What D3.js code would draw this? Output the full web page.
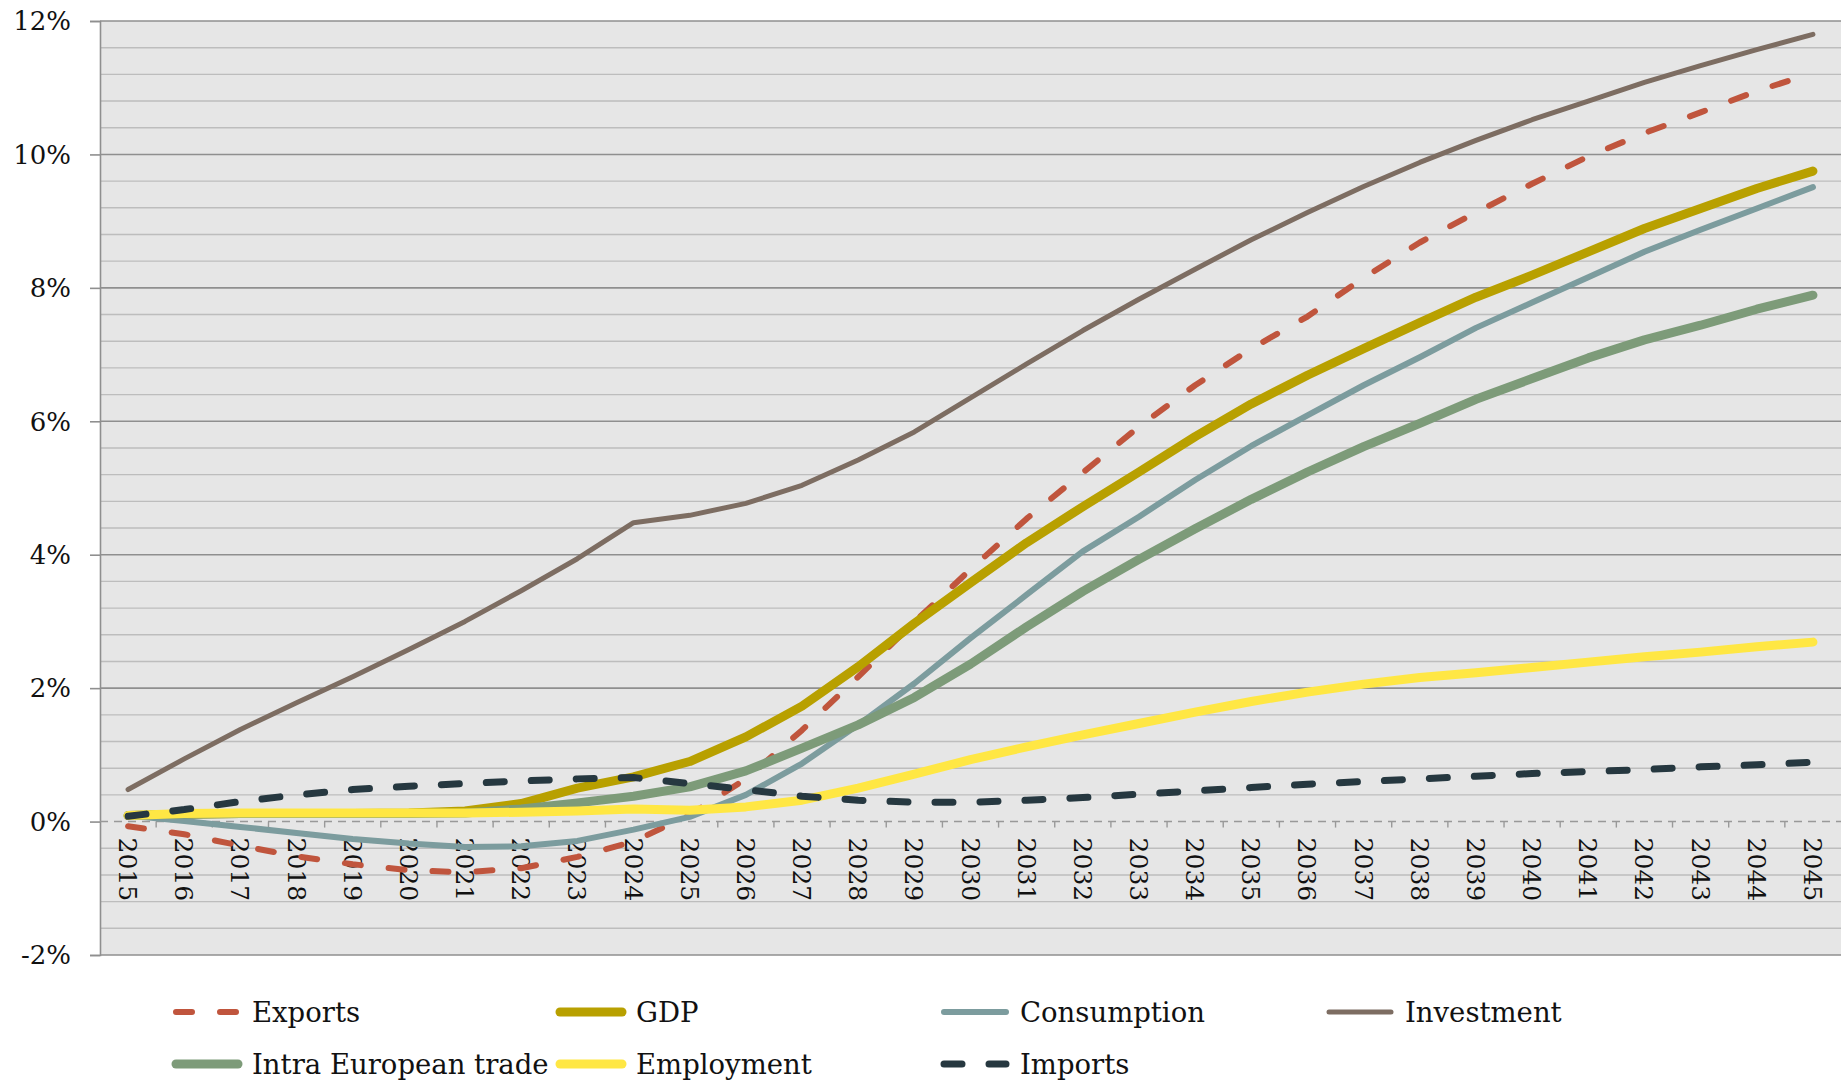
<!DOCTYPE html>
<html>
<head>
<meta charset="utf-8">
<script src="https://cdn.jsdelivr.net/npm/d3@7"></script>
<style>
  html, body { margin: 0; padding: 0; background: #ffffff; }
  svg { display: block; }
</style>
</head>
<body>
<svg id="chart" width="1845" height="1081"></svg>
<script>
// Years on the category axis
const years = [2015, 2016, 2017, 2018, 2019, 2020, 2021, 2022, 2023, 2024,
               2025, 2026, 2027, 2028, 2029, 2030, 2031, 2032, 2033, 2034,
               2035, 2036, 2037, 2038, 2039, 2040, 2041, 2042, 2043, 2044, 2045];

// Deviation from baseline, in percent
const exportsSeries = [-0.07, -0.19, -0.36, -0.52, -0.64, -0.73, -0.76, -0.70, -0.53, -0.30,
                       0.10, 0.64, 1.37, 2.17, 2.99, 3.78, 4.54, 5.23, 5.92, 6.54,
                       7.09, 7.57, 8.15, 8.68, 9.13, 9.56, 9.97, 10.32, 10.63, 10.95, 11.22];
const gdpSeries = [0.09, 0.11, 0.12, 0.12, 0.12, 0.13, 0.16, 0.27, 0.50, 0.67,
                   0.90, 1.27, 1.73, 2.32, 2.97, 3.58, 4.18, 4.72, 5.24, 5.77,
                   6.26, 6.69, 7.09, 7.48, 7.86, 8.19, 8.54, 8.89, 9.19, 9.49, 9.75];
const consumptionSeries = [0.09, 0.01, -0.08, -0.17, -0.26, -0.33, -0.38, -0.37, -0.29, -0.12,
                           0.07, 0.40, 0.87, 1.45, 2.07, 2.75, 3.40, 4.05, 4.57, 5.12,
                           5.63, 6.09, 6.54, 6.96, 7.40, 7.78, 8.16, 8.54, 8.87, 9.19, 9.51];
const investmentSeries = [0.48, 0.94, 1.38, 1.78, 2.17, 2.58, 3.00, 3.46, 3.94, 4.48,
                          4.59, 4.77, 5.04, 5.42, 5.84, 6.35, 6.86, 7.36, 7.83, 8.28,
                          8.72, 9.13, 9.52, 9.88, 10.21, 10.52, 10.80, 11.08, 11.33, 11.57, 11.80];
const intraEuSeries = [0.09, 0.11, 0.12, 0.12, 0.12, 0.12, 0.13, 0.19, 0.28, 0.38,
                       0.52, 0.76, 1.10, 1.45, 1.86, 2.36, 2.92, 3.45, 3.93, 4.39,
                       4.83, 5.24, 5.62, 5.97, 6.33, 6.64, 6.95, 7.22, 7.44, 7.68, 7.89];
const employmentSeries = [0.09, 0.12, 0.13, 0.13, 0.13, 0.13, 0.13, 0.14, 0.16, 0.19,
                          0.17, 0.22, 0.32, 0.50, 0.71, 0.93, 1.12, 1.30, 1.47, 1.64,
                          1.80, 1.94, 2.06, 2.16, 2.23, 2.31, 2.39, 2.47, 2.54, 2.62, 2.69];
const importsSeries = [0.08, 0.18, 0.30, 0.40, 0.48, 0.53, 0.57, 0.61, 0.64, 0.66,
                       0.57, 0.48, 0.38, 0.32, 0.29, 0.29, 0.32, 0.36, 0.41, 0.46,
                       0.51, 0.56, 0.60, 0.64, 0.68, 0.72, 0.75, 0.78, 0.82, 0.85, 0.89];

// Axis tick labels
const yTickValues = [-2, 0, 2, 4, 6, 8, 10, 12];
const seriesNames = ["Exports", "GDP", "Consumption", "Investment",
                     "Intra European trade", "Employment", "Imports"];

// Build series table (legend order = drawing order)
const seriesData = {
  "Exports": exportsSeries,
  "GDP": gdpSeries,
  "Consumption": consumptionSeries,
  "Investment": investmentSeries,
  "Intra European trade": intraEuSeries,
  "Employment": employmentSeries,
  "Imports": importsSeries
};
const seriesStyle = {
  "Exports":              { color: "#C0553D", width: 6, dash: "16,28" },
  "GDP":                  { color: "#B8A000", width: 9, dash: null },
  "Consumption":          { color: "#7C9C9E", width: 6, dash: null },
  "Investment":           { color: "#7D6D62", width: 5, dash: null },
  "Intra European trade": { color: "#7D9B79", width: 9, dash: null },
  "Employment":           { color: "#FFE744", width: 9, dash: null },
  "Imports":              { color: "#263840", width: 7, dash: "18,27" }
};

const FONT = "'DejaVu Serif', 'Liberation Serif', serif";

const svg = d3.select("#chart");

const plot = { left: 100, right: 1841, top: 21, bottom: 955 };

const x = d3.scalePoint()
  .domain(years)
  .range([plot.left, plot.right])
  .padding(0.5);

const y = d3.scaleLinear()
  .domain([-2, 12])
  .range([plot.bottom, plot.top]);

// Plot background
svg.append("rect")
  .attr("x", plot.left)
  .attr("y", plot.top)
  .attr("width", plot.right - plot.left)
  .attr("height", plot.bottom - plot.top)
  .attr("fill", "#E6E6E6");

// Minor gridlines every 0.4 %
const minorTicks = d3.range(-2, 12.0001, 0.4).map(v => +v.toFixed(1))
  .filter(v => Math.abs(v / 2 - Math.round(v / 2)) > 1e-6);
svg.append("g")
  .selectAll("line")
  .data(minorTicks)
  .join("line")
  .attr("x1", plot.left)
  .attr("x2", plot.right)
  .attr("y1", d => y(d))
  .attr("y2", d => y(d))
  .attr("stroke", "#BDBDBD")
  .attr("stroke-width", 1.4);

// Major gridlines (the zero line is drawn separately as the category axis)
svg.append("g")
  .selectAll("line")
  .data(yTickValues.filter(v => v !== 0))
  .join("line")
  .attr("x1", plot.left)
  .attr("x2", plot.right)
  .attr("y1", d => y(d))
  .attr("y2", d => y(d))
  .attr("stroke", "#8F8F8F")
  .attr("stroke-width", 1.6);

// Value axis
const yAxis = d3.axisLeft(y)
  .tickValues(yTickValues)
  .tickSize(10)
  .tickPadding(19)
  .tickFormat(d => d + "%");

const yAxisG = svg.append("g")
  .attr("transform", `translate(${plot.left},0)`)
  .call(yAxis);
yAxisG.select(".domain").attr("stroke", "#8F8F8F").attr("stroke-width", 1.6);
yAxisG.selectAll(".tick line").attr("stroke", "#8F8F8F").attr("stroke-width", 1.6);
yAxisG.selectAll(".tick text")
  .attr("font-family", FONT)
  .attr("font-size", 26)
  .attr("fill", "#111")
  .attr("dy", "0.34em");

// Category axis at zero: dashed line with ticks between years
const zeroY = y(0);
const step = x.step();
svg.append("line")
  .attr("x1", plot.left)
  .attr("x2", plot.right)
  .attr("y1", zeroY)
  .attr("y2", zeroY)
  .attr("stroke", "#999999")
  .attr("stroke-width", 1.6)
  .attr("stroke-dasharray", "8,6");

svg.append("g")
  .selectAll("line")
  .data(years.slice(1))
  .join("line")
  .attr("x1", d => x(d) - step / 2)
  .attr("x2", d => x(d) - step / 2)
  .attr("y1", zeroY)
  .attr("y2", zeroY + 6)
  .attr("stroke", "#999999")
  .attr("stroke-width", 1.4);

// Year labels, rotated to read downward
svg.append("g")
  .selectAll("text")
  .data(years)
  .join("text")
  .attr("transform", d => `translate(${x(d)},${zeroY + 16}) rotate(90)`)
  .attr("text-anchor", "start")
  .attr("dy", "0.36em")
  .attr("font-family", FONT)
  .attr("font-size", 25)
  .attr("fill", "#111")
  .text(d => d);

// Series lines
const line = d3.line()
  .x((d, i) => x(years[i]))
  .y(d => y(d))
  .curve(d3.curveLinear);

const linesG = svg.append("g");
seriesNames.forEach(name => {
  const s = seriesStyle[name];
  linesG.append("path")
    .datum(seriesData[name])
    .attr("d", line)
    .attr("fill", "none")
    .attr("stroke", s.color)
    .attr("stroke-width", s.width)
    .attr("stroke-linecap", "round")
    .attr("stroke-linejoin", "round")
    .attr("stroke-dasharray", s.dash);
});

// Legend: two rows of four columns
const legendCols = [173, 557, 941, 1326];
const legendRows = [1012, 1064];
const legendG = svg.append("g");
seriesNames.forEach((name, i) => {
  const s = seriesStyle[name];
  const cx = legendCols[i % 4];
  const cy = legendRows[Math.floor(i / 4)];
  const item = legendG.append("g").attr("transform", `translate(${cx},${cy})`);
  item.append("line")
    .attr("x1", 3)
    .attr("x2", 65)
    .attr("y1", 0)
    .attr("y2", 0)
    .attr("stroke", s.color)
    .attr("stroke-width", s.width)
    .attr("stroke-linecap", "round")
    .attr("stroke-dasharray", s.dash);
  item.append("text")
    .attr("x", 79)
    .attr("y", 0)
    .attr("dy", "0.36em")
    .attr("font-family", FONT)
    .attr("font-size", 27.5)
    .attr("fill", "#111")
    .text(name);
});
</script>
</body>
</html>
